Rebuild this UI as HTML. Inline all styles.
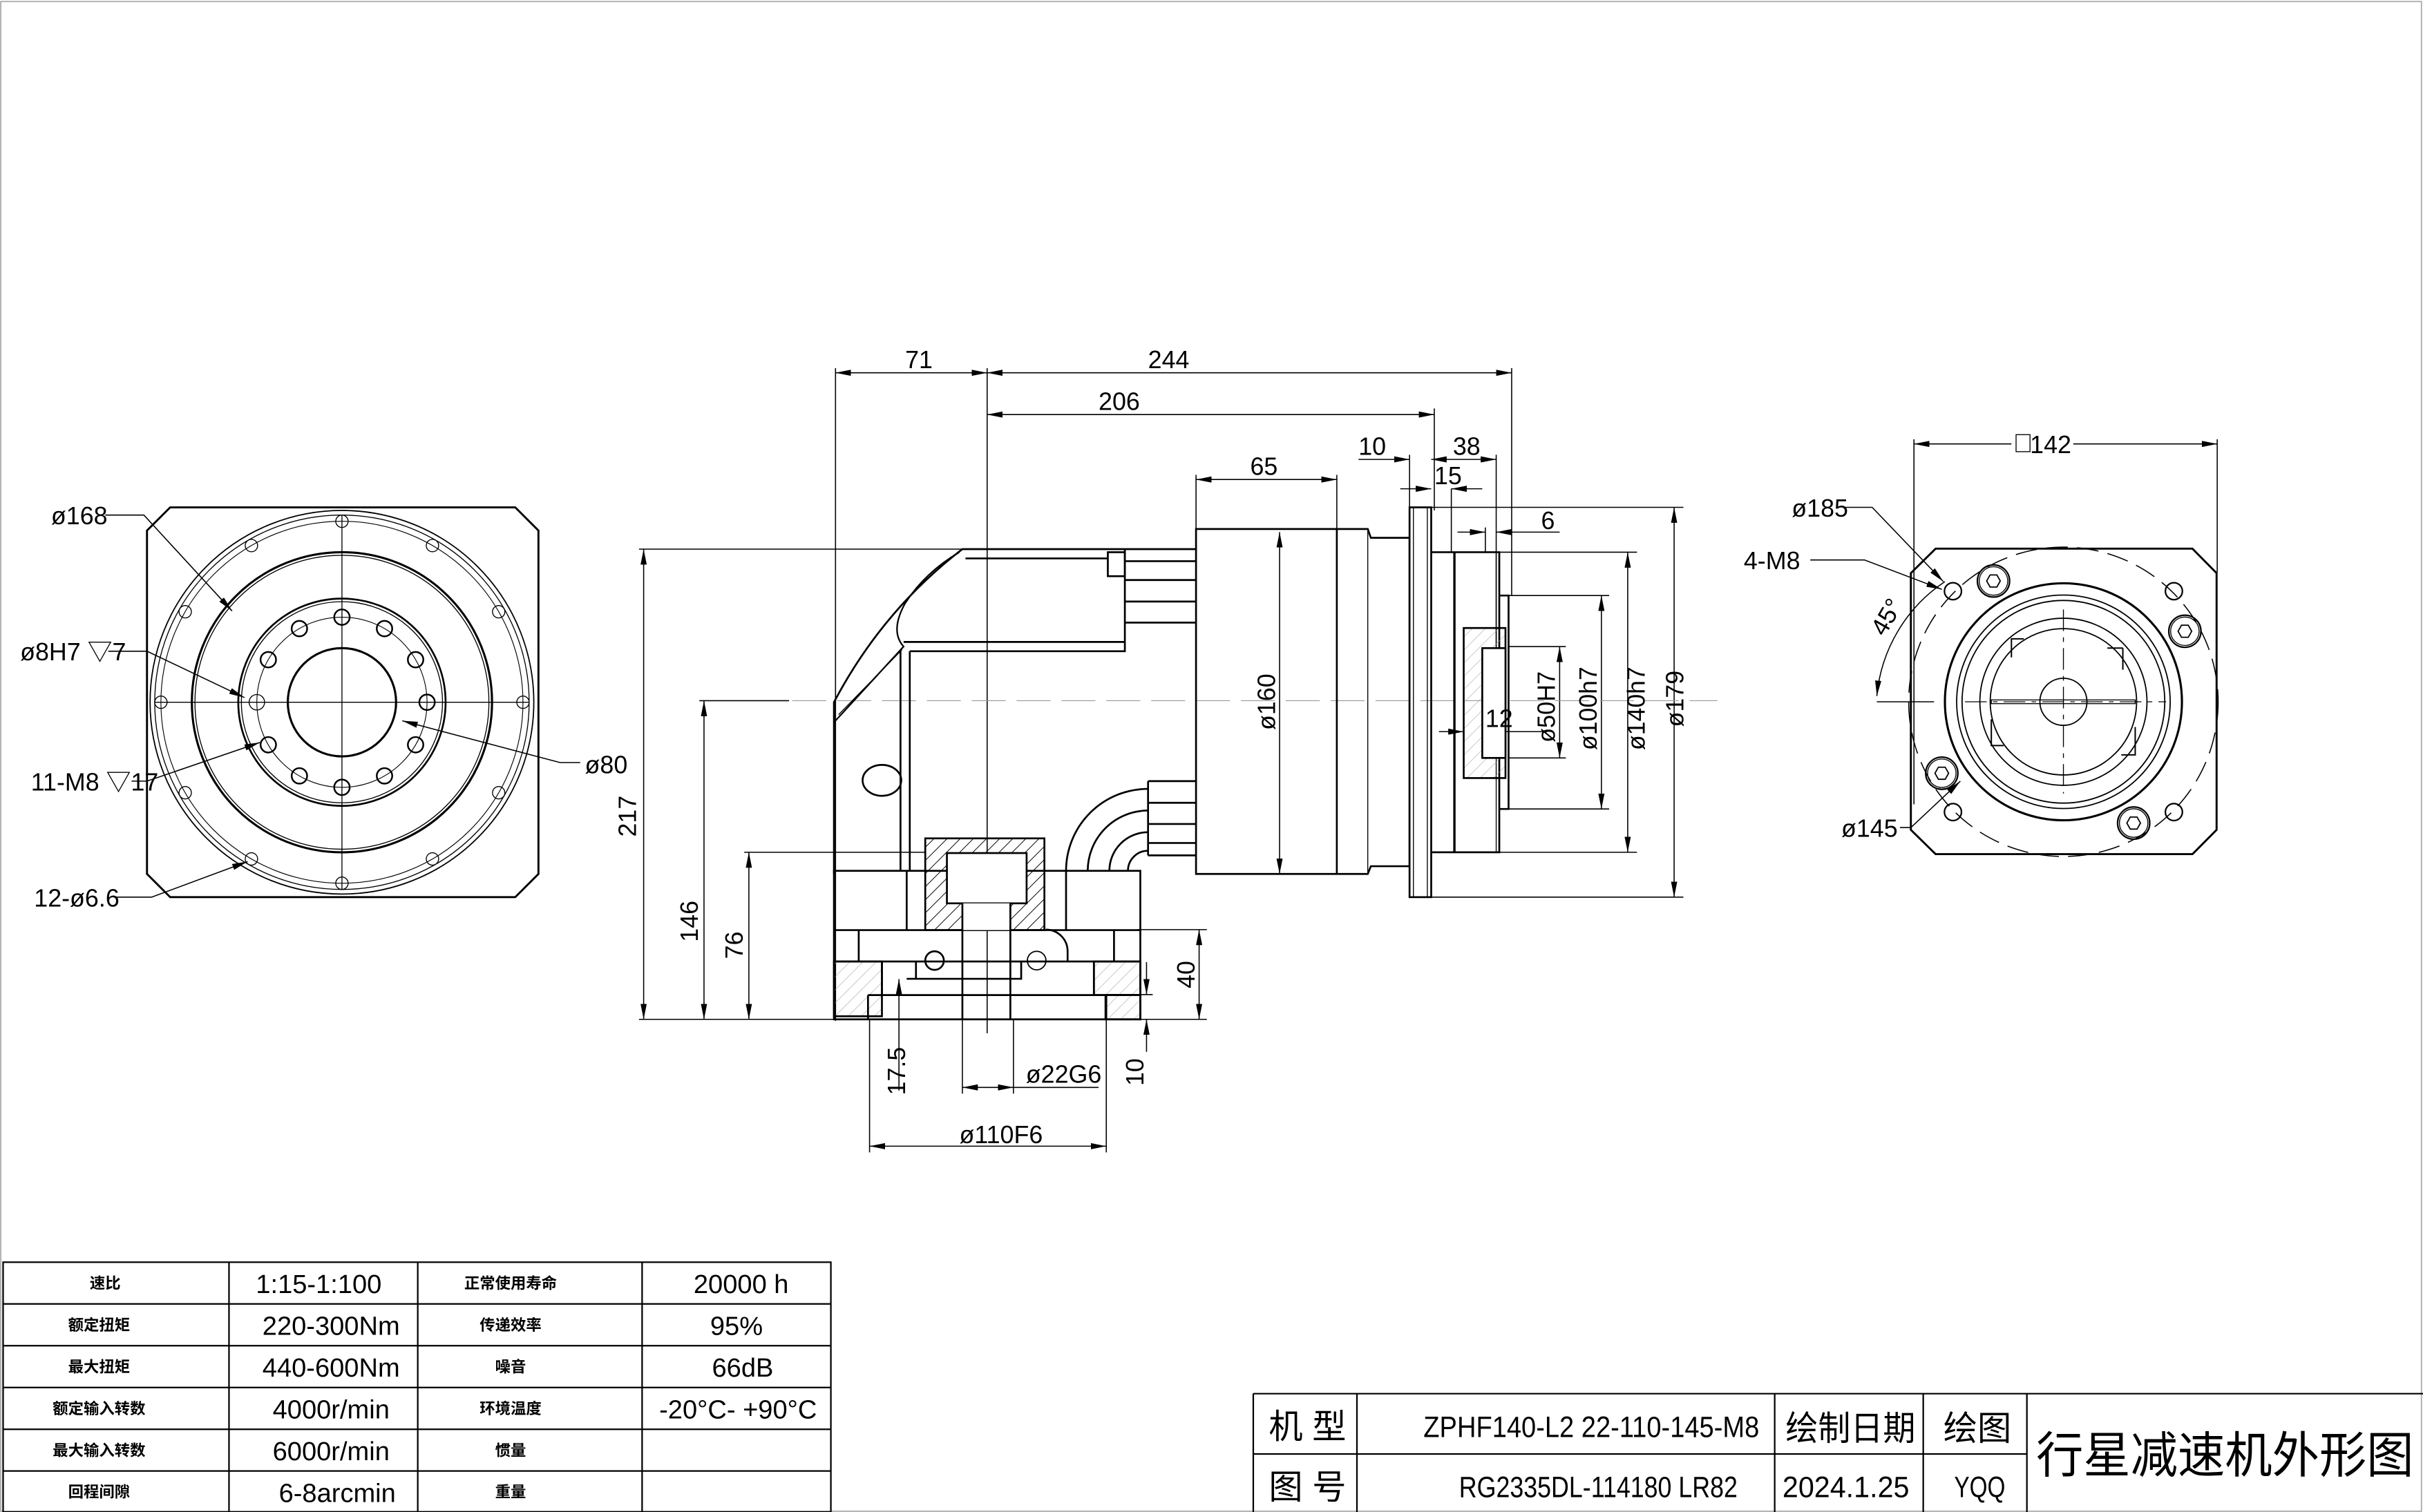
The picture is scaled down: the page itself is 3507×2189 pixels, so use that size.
<!DOCTYPE html>
<html><head><meta charset="utf-8">
<style>
html,body{margin:0;padding:0;background:#fff;}
svg{display:block;}
text{font-family:"Liberation Sans Narrow","Liberation Sans","Noto Sans CJK SC",sans-serif;fill:#000;}
.cjk{font-family:"Liberation Serif","Noto Serif CJK SC","Noto Sans CJK SC",serif;}
</style></head>
<body>
<svg width="3507" height="2189" viewBox="0 0 1566 977.5" preserveAspectRatio="none" xmlns="http://www.w3.org/2000/svg">
<defs>
<pattern id="h" patternUnits="userSpaceOnUse" width="6" height="6" patternTransform="rotate(45)">
<line x1="0" y1="0" x2="0" y2="6" stroke="#000" stroke-width="0.9"/></pattern>
<pattern id="hl" patternUnits="userSpaceOnUse" width="6" height="6" patternTransform="rotate(45)">
<line x1="0" y1="0" x2="0" y2="6" stroke="#999" stroke-width="0.5"/></pattern>
<marker id="a" viewBox="0 0 10 4" refX="10" refY="2" markerWidth="10" markerHeight="4" orient="auto-start-reverse" markerUnits="userSpaceOnUse"><path d="M0,0L10,2L0,4z" fill="#000"/></marker>
</defs>
<rect x="0.5" y="1" width="1564.5" height="976" fill="none" stroke="#aaa" stroke-width="0.8"/>

<!-- ================= LEFT VIEW ================= -->
<g fill="none" stroke="#000">
<path d="M110,328H333L348,343V565L333,580H110L95,565V343Z" stroke-width="1.3"/>
<circle cx="221" cy="454" r="124" stroke-width="0.8"/>
<circle cx="221" cy="454" r="121" stroke-width="0.6"/>
<circle cx="221" cy="454" r="117" stroke-width="0.5"/>
<circle cx="221" cy="454" r="97" stroke-width="1.4"/>
<circle cx="221" cy="454" r="95" stroke-width="0.6"/>
<circle cx="221" cy="454" r="67" stroke-width="1.2"/>
<circle cx="221" cy="454" r="65" stroke-width="0.6"/>
<circle cx="221" cy="454" r="55" stroke-width="0.5"/>
<circle cx="221" cy="454" r="35" stroke-width="1.4"/>
<line x1="100" y1="454" x2="342" y2="454" stroke-width="0.6"/>
<line x1="221" y1="333" x2="221" y2="575" stroke-width="0.6"/>
<g stroke-width="0.6">
<circle cx="338" cy="454" r="4"/><circle cx="322.3" cy="512.5" r="4"/><circle cx="279.5" cy="555.3" r="4"/><circle cx="221" cy="571" r="4"/><circle cx="162.5" cy="555.3" r="4"/><circle cx="119.7" cy="512.5" r="4"/><circle cx="104" cy="454" r="4"/><circle cx="119.7" cy="395.5" r="4"/><circle cx="162.5" cy="352.7" r="4"/><circle cx="221" cy="337" r="4"/><circle cx="279.5" cy="352.7" r="4"/><circle cx="322.3" cy="395.5" r="4"/>
</g>
<g stroke-width="1.1">
<circle cx="276" cy="454" r="5"/><circle cx="268.6" cy="481.5" r="5"/><circle cx="248.5" cy="501.6" r="5"/><circle cx="221" cy="509" r="5"/><circle cx="193.5" cy="501.6" r="5"/><circle cx="173.4" cy="481.5" r="5"/><circle cx="166" cy="454" r="5" stroke-width="0.6"/><circle cx="173.4" cy="426.5" r="5"/><circle cx="193.5" cy="406.4" r="5"/><circle cx="221" cy="399" r="5"/><circle cx="248.5" cy="406.4" r="5"/><circle cx="268.6" cy="426.5" r="5"/>
</g>
<g stroke-width="0.7">
<polyline points="68,333 93,333 150,395" marker-end="url(#a)"/>
<polyline points="70,421 95,421 158,451" marker-end="url(#a)"/>
<polyline points="85,505 95,505 168,480" marker-end="url(#a)"/>
<polyline points="75,580 98,580 160,557" marker-end="url(#a)"/>
<polyline points="375,493 362,493 260,466" marker-end="url(#a)"/>
</g>
</g>
<g font-size="16">
<text x="33" y="339">ø168</text>
<text x="13" y="427">ø8H7 ▽7</text>
<text x="20" y="511">11-M8 ▽17</text>
<text x="22" y="586">12-ø6.6</text>
<text x="378" y="500">ø80</text>
</g>

<!-- ================= MIDDLE VIEW ================= -->
<g fill="none" stroke="#000">
<g stroke-width="0.7">
<line x1="540" y1="241" x2="638" y2="241" marker-start="url(#a)" marker-end="url(#a)"/>
<line x1="638" y1="241" x2="977" y2="241" marker-start="url(#a)" marker-end="url(#a)"/>
<line x1="638" y1="268" x2="927" y2="268" marker-start="url(#a)" marker-end="url(#a)"/>
<line x1="540" y1="238" x2="540" y2="660"/>
<line x1="638" y1="238" x2="638" y2="668"/>
<line x1="977" y1="238" x2="977" y2="385"/>
<line x1="927" y1="264" x2="927" y2="330"/>
<line x1="878" y1="297" x2="911" y2="297" marker-end="url(#a)"/>
<line x1="925" y1="297" x2="967" y2="297" marker-start="url(#a)" marker-end="url(#a)"/>
<line x1="911" y1="294" x2="911" y2="330"/>
<line x1="967" y1="294" x2="967" y2="418"/>
<line x1="905" y1="316" x2="925" y2="316" marker-end="url(#a)"/>
<line x1="938" y1="316" x2="958" y2="316" marker-start="url(#a)"/>
<line x1="938" y1="316" x2="938" y2="357"/>
<line x1="773" y1="310" x2="864" y2="310" marker-start="url(#a)" marker-end="url(#a)"/>
<line x1="773" y1="307" x2="773" y2="342"/>
<line x1="864" y1="307" x2="864" y2="342"/>
<line x1="942" y1="344" x2="960" y2="344" marker-end="url(#a)"/>
<line x1="967" y1="344" x2="1008" y2="344" marker-start="url(#a)"/>
<line x1="960" y1="341" x2="960" y2="357"/>
<line x1="925" y1="328" x2="1088" y2="328"/>
<line x1="925" y1="580" x2="1088" y2="580"/>
<line x1="1082" y1="328" x2="1082" y2="580" marker-start="url(#a)" marker-end="url(#a)"/>
<line x1="969" y1="357" x2="1058" y2="357"/>
<line x1="969" y1="551" x2="1058" y2="551"/>
<line x1="1052" y1="357" x2="1052" y2="551" marker-start="url(#a)" marker-end="url(#a)"/>
<line x1="975" y1="385" x2="1040" y2="385"/>
<line x1="975" y1="523" x2="1040" y2="523"/>
<line x1="1035" y1="385" x2="1035" y2="523" marker-start="url(#a)" marker-end="url(#a)"/>
<line x1="975" y1="418" x2="1012" y2="418"/>
<line x1="975" y1="490" x2="1012" y2="490"/>
<line x1="1008" y1="418" x2="1008" y2="490" marker-start="url(#a)" marker-end="url(#a)"/>
<line x1="930" y1="473" x2="946" y2="473" marker-end="url(#a)"/>
<line x1="958" y1="473" x2="1000" y2="473" marker-start="url(#a)"/>
<line x1="827" y1="344" x2="827" y2="565" marker-start="url(#a)" marker-end="url(#a)"/>
<line x1="413" y1="355" x2="625" y2="355"/>
<line x1="416" y1="355" x2="416" y2="659" marker-start="url(#a)" marker-end="url(#a)"/>
<line x1="452" y1="453" x2="510" y2="453"/>
<line x1="455" y1="453" x2="455" y2="659" marker-start="url(#a)" marker-end="url(#a)"/>
<line x1="481" y1="551" x2="598" y2="551"/>
<line x1="484" y1="551" x2="484" y2="659" marker-start="url(#a)" marker-end="url(#a)"/>
<line x1="413" y1="659" x2="780" y2="659"/>
<line x1="735" y1="601" x2="780" y2="601"/>
<line x1="775" y1="601" x2="775" y2="659" marker-start="url(#a)" marker-end="url(#a)"/>
<line x1="741" y1="622" x2="741" y2="643" marker-end="url(#a)"/>
<line x1="741" y1="680" x2="741" y2="659" marker-end="url(#a)"/>
<line x1="715" y1="643" x2="745" y2="643"/>
<line x1="581" y1="705" x2="581" y2="633" marker-end="url(#a)"/>
<line x1="622" y1="659" x2="622" y2="707"/>
<line x1="655" y1="659" x2="655" y2="707"/>
<line x1="622" y1="703" x2="655" y2="703" marker-start="url(#a)" marker-end="url(#a)"/>
<line x1="655" y1="703" x2="710" y2="703"/>
<line x1="562" y1="659" x2="562" y2="745"/>
<line x1="715" y1="659" x2="715" y2="745"/>
<line x1="562" y1="741" x2="715" y2="741" marker-start="url(#a)" marker-end="url(#a)"/>
</g>
<line x1="512" y1="453" x2="1110" y2="453" stroke="#999" stroke-width="0.5" stroke-dasharray="22,7"/>

<g stroke-width="1.2">
<path d="M539,565V454Q570,395 622,355H773"/>
<path d="M539,467L584,418Q575,408 585,390Q598,370 620,357" stroke-width="1"/>
<path d="M542,462L583,420" stroke-width="0.6"/>
<path d="M582,421V563M588,421V563"/>
<path d="M588,421H727V355M584,415H727"/>
<path d="M624,361H716"/>
<rect x="716" y="357" width="11" height="15.5"/>
<path d="M727,362.8H773M727,375H773M727,388.9H773M727,402.5H773"/>
<ellipse cx="570" cy="504.5" rx="12.5" ry="10"/>
<path d="M689,563A53,53 0 0 1 742,510M703,563A39,39 0 0 1 742,524M717,563A25,25 0 0 1 742,538M729,563A13,13 0 0 1 742,550"/>
<path d="M742,505V553M742,505H773M742,519H773M742,532.7H773M742,545H773M742,553H773"/>
<path d="M773,342H884L886,347.7H911V560H886L884,565H773Z"/>
<line x1="864" y1="342" x2="864" y2="565"/>
<line x1="884" y1="342" x2="884" y2="565" stroke-width="0.6"/>
<rect x="911" y="328" width="14" height="252"/>
<line x1="913.5" y1="328" x2="913.5" y2="580" stroke-width="0.6"/>
<line x1="922.5" y1="328" x2="922.5" y2="580" stroke-width="0.6"/>
<path d="M925,357H969V551H925"/>
<line x1="940" y1="357" x2="940" y2="551" stroke-width="1.5"/>
<line x1="967" y1="357" x2="967" y2="551" stroke-width="0.6"/>
<path d="M969,385H975V523H969"/>
<rect x="946" y="406" width="27" height="97" fill="url(#hl)"/>
<rect x="958" y="419" width="15" height="71" fill="#fff"/>
<path d="M539,563H737V659H539Z"/>
<path d="M539,601.3H737M539,621.6H737"/>
<path d="M586,563V601M689,563V601M555,601V621.6M720,601V621.6"/>
<rect x="539" y="621.6" width="31" height="35.4" fill="url(#hl)"/>
<rect x="707" y="621.6" width="30" height="21.7" fill="url(#hl)"/>
<rect x="714.5" y="643.3" width="22.5" height="15.7" fill="url(#hl)"/>
<path d="M570,621.6V643.3M707,621.6V643.3M561,643.3H715V659M561,643.3V659"/>
<path d="M586,632.8H660V621.6M592,621.6V632.8"/>
<rect x="598" y="542" width="77" height="59.3" fill="url(#h)"/>
<rect x="612" y="551.5" width="51.5" height="32.5" fill="#fff"/>
<rect x="622" y="584" width="31" height="17.3" fill="#fff" stroke="none"/>
<path d="M622,584V659M653,584V659"/>
<circle cx="604" cy="621" r="6"/>
<circle cx="670" cy="621" r="6" stroke-width="0.8"/>
<path d="M676,601A14,14 0 0 1 690,615V621.6"/>
</g>
</g>
<g font-size="16">
<text x="585" y="238">71</text>
<text x="742" y="238">244</text>
<text x="710" y="265">206</text>
<text x="878" y="294">10</text>
<text x="939" y="294">38</text>
<text x="927" y="313">15</text>
<text x="996" y="342">6</text>
<text x="808" y="307">65</text>
<text x="960" y="470">12</text>
<text transform="translate(824,472) rotate(-90)">ø160</text>
<text transform="translate(1005,480) rotate(-90)" textLength="46" lengthAdjust="spacingAndGlyphs">ø50H7</text>
<text transform="translate(1032,485) rotate(-90)" textLength="54" lengthAdjust="spacingAndGlyphs">ø100h7</text>
<text transform="translate(1063,485) rotate(-90)" textLength="54" lengthAdjust="spacingAndGlyphs">ø140h7</text>
<text transform="translate(1088,470) rotate(-90)">ø179</text>
<text transform="translate(411,541) rotate(-90)">217</text>
<text transform="translate(451,609) rotate(-90)">146</text>
<text transform="translate(480,620) rotate(-90)">76</text>
<text transform="translate(772,639) rotate(-90)">40</text>
<text transform="translate(739,702) rotate(-90)">10</text>
<text transform="translate(585,708) rotate(-90)">17.5</text>
<text x="663" y="700">ø22G6</text>
<text x="620" y="739">ø110F6</text>
</g>

<!-- ================= RIGHT VIEW ================= -->
<g fill="none" stroke="#000">
<path d="M1251,354.7H1417L1432.6,370.5V536.5L1417,552.2H1251L1235,536.5V370.5Z" stroke-width="1.3"/>
<circle cx="1333.6" cy="453.7" r="100" stroke-width="0.7" stroke-dasharray="14,6"/>
<circle cx="1333.6" cy="453.7" r="76.6" stroke-width="1.4"/>
<circle cx="1333.6" cy="453.7" r="69" stroke-width="0.8"/>
<circle cx="1333.6" cy="453.7" r="65.5" stroke-width="0.8"/>
<circle cx="1333.6" cy="453.7" r="54" stroke-width="0.8"/>
<circle cx="1333.6" cy="453.7" r="47.3" stroke-width="0.8"/>
<circle cx="1333.6" cy="453.7" r="15.2" stroke-width="0.8"/>
<line x1="1270" y1="453.7" x2="1400" y2="453.7" stroke-width="0.6" stroke-dasharray="14,4,3,4"/>
<line x1="1333.6" y1="394" x2="1333.6" y2="513" stroke-width="0.6" stroke-dasharray="14,4,3,4"/>
<rect x="1287" y="452.5" width="93" height="2.4" stroke-width="0.6"/>
<path d="M1300,425V413H1308M1372,419V433M1362,419H1372M1287,465V482H1295M1371,488H1380V470" stroke-width="0.9"/>
<g stroke-width="1">
<circle cx="1262.2" cy="382.2" r="5.5"/><circle cx="1405" cy="382.2" r="5.5"/><circle cx="1262.2" cy="525" r="5.5"/><circle cx="1405" cy="525" r="5.5"/>
<circle cx="1288.4" cy="375.6" r="10.4"/><circle cx="1288.4" cy="375.6" r="9.2" stroke-width="0.6"/>
<circle cx="1412.1" cy="408.1" r="10.4"/><circle cx="1412.1" cy="408.1" r="9.2" stroke-width="0.6"/>
<circle cx="1255" cy="499.9" r="10.4"/><circle cx="1255" cy="499.9" r="9.2" stroke-width="0.6"/>
<circle cx="1379" cy="532.1" r="10.4"/><circle cx="1379" cy="532.1" r="9.2" stroke-width="0.6"/>
</g>
<g stroke-width="0.8">
<path d="M1284,375.6l2.2-3.9h4.4l2.2,3.9l-2.2,3.9h-4.4z"/>
<path d="M1407.7,408.1l2.2-3.9h4.4l2.2,3.9l-2.2,3.9h-4.4z"/>
<path d="M1250.6,499.9l2.2-3.9h4.4l2.2,3.9l-2.2,3.9h-4.4z"/>
<path d="M1374.6,532.1l2.2-3.9h4.4l2.2,3.9l-2.2,3.9h-4.4z"/>
</g>
<g stroke-width="0.7">
<line x1="1237" y1="287" x2="1300" y2="287" marker-start="url(#a)"/>
<line x1="1340" y1="287" x2="1433" y2="287" marker-end="url(#a)"/>
<line x1="1237" y1="284" x2="1237" y2="520"/>
<line x1="1433" y1="284" x2="1433" y2="370"/>
<polyline points="1192,328 1210,328 1256,376" marker-end="url(#a)"/>
<polyline points="1170,362 1205,362 1255,381" marker-end="url(#a)"/>
<polyline points="1228,535 1235,535 1267,505" marker-end="url(#a)"/>
<path d="M1257,376A100,100 0 0 0 1213,450" marker-end="url(#a)"/>
<line x1="1213" y1="453.7" x2="1250" y2="453.7"/>
</g>
</g>
<rect x="1303" y="281" width="9" height="11" fill="none" stroke="#000" stroke-width="0.6"/>
<g font-size="16">
<text x="1312" y="293">142</text>
<text x="1158" y="334">ø185</text>
<text x="1127" y="368">4-M8</text>
<text x="1190" y="541">ø145</text>
<text transform="translate(1218,412) rotate(-60)">45°</text>
</g>

<!-- ================= SPEC TABLE ================= -->
<g fill="none" stroke="#000" stroke-width="1">
<rect x="2" y="816" width="535" height="161.5"/>
<path d="M148,816V977.5M270,816V977.5M415,816V977.5"/>
<path d="M2,843H537M2,870H537M2,897H537M2,924H537M2,951H537"/>
</g>
<g class="cjk" font-size="10" font-weight="bold" text-anchor="middle">
<text x="68" y="833">速比</text>
<text x="64" y="860">额定扭矩</text>
<text x="64" y="887">最大扭矩</text>
<text x="64" y="914">额定输入转数</text>
<text x="64" y="941">最大输入转数</text>
<text x="64" y="968">回程间隙</text>
<text x="330" y="833">正常使用寿命</text>
<text x="330" y="860">传递效率</text>
<text x="330" y="887">噪音</text>
<text x="330" y="914">环境温度</text>
<text x="330" y="941">惯量</text>
<text x="330" y="968">重量</text>
</g>
<g font-size="17" text-anchor="middle">
<text x="206" y="836">1:15-1:100</text>
<text x="214" y="863">220-300Nm</text>
<text x="214" y="890">440-600Nm</text>
<text x="214" y="917">4000r/min</text>
<text x="214" y="944">6000r/min</text>
<text x="218" y="971">6-8arcmin</text>
<text x="479" y="836">20000 h</text>
<text x="476" y="863">95%</text>
<text x="480" y="890">66dB</text>
<text x="477" y="917">-20°C- +90°C</text>
</g>

<!-- ================= TITLE BLOCK ================= -->
<g fill="none" stroke="#000" stroke-width="1">
<path d="M810,901H1566M810,901V977.5M877,901V977.5M1147,901V977.5M1243,901V977.5M1310,901V977.5"/>
<path d="M810,940H1310"/>
</g>
<g class="cjk" font-size="22">
<text x="820" y="930">机 型</text>
<text x="820" y="969">图 号</text>
<text x="1154" y="931" textLength="84" lengthAdjust="spacingAndGlyphs">绘制日期</text>
<text x="1256" y="931" textLength="44" lengthAdjust="spacingAndGlyphs">绘图</text>
<text x="1316" y="952" font-size="32" textLength="244" lengthAdjust="spacingAndGlyphs">行星减速机外形图</text>
</g>
<g class="cjk" font-size="19">
<text x="920" y="929" textLength="217" lengthAdjust="spacingAndGlyphs">ZPHF140-L2 22-110-145-M8</text>
<text x="943" y="968" textLength="180" lengthAdjust="spacingAndGlyphs">RG2335DL-114180 LR82</text>
<text x="1152" y="968" textLength="82" lengthAdjust="spacingAndGlyphs">2024.1.25</text>
<text x="1263" y="968" textLength="33" lengthAdjust="spacingAndGlyphs">YQQ</text>
</g>
</svg>
</body></html>
